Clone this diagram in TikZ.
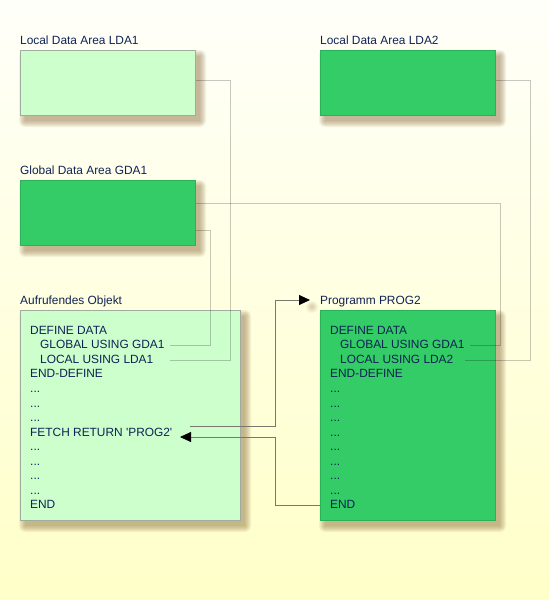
\documentclass[tikz,border=0pt]{standalone}
\usepackage{fontspec}
\newfontfamily\diagfont{Liberation Sans}
\usetikzlibrary{arrows.meta,calc}
\definecolor{bgtop}{RGB}{255,255,250}
\definecolor{bgbot}{RGB}{255,255,200}
\definecolor{lightgreen}{RGB}{204,255,204}
\definecolor{lightedge}{RGB}{160,172,160}
\definecolor{darkgreen}{RGB}{51,204,102}
\definecolor{darkedge}{RGB}{42,178,88}
\definecolor{navy}{RGB}{15,35,85}
\definecolor{shadowcol}{RGB}{140,105,60}
\definecolor{flowgray}{RGB}{120,120,110}
\newcommand{\boxshade}[4]{%
  \foreach \r in {0,1,...,6}{%
    \fill[shadowcol, opacity=0.085, rounded corners=\r pt] (#1+5-\r,#2+6-\r) rectangle (#3+5+\r,#4+6+\r);
  }}
\begin{document}
\begin{tikzpicture}[x=1pt,y=-1pt,
  font=\diagfont\fontsize{11.9}{14}\selectfont,
  lightbox/.style={draw=lightedge, fill=lightgreen, line width=0.9pt, anchor=north west, inner sep=0pt},
  darkbox/.style={draw=darkedge, fill=darkgreen, line width=0.9pt, anchor=north west, inner sep=0pt},
  lbl/.style={anchor=base west, inner sep=0pt, text=navy},
  code/.style={anchor=base west, inner sep=0pt, text=navy},
  dataline/.style={draw=black, draw opacity=0.22, line width=0.8pt},
  flowline/.style={draw=flowgray, line width=0.8pt, -{Triangle[length=11pt,width=10pt,color=black]}}]
\useasboundingbox (0,0) rectangle (549,600);
\shade[top color=bgtop, bottom color=bgbot] (0,0) rectangle (549,600);
% shadows
\boxshade{20}{50}{195}{115}
\boxshade{320}{50}{495}{115}
\boxshade{20}{180}{195}{245}
\boxshade{20}{310}{240}{520}
\boxshade{320}{310}{495}{520}
\foreach \r in {1,...,6} \fill[shadowcol, opacity=0.06] (312,307) circle[radius=\r];
\foreach \r in {1,...,6} \fill[shadowcol, opacity=0.06] (193,444) circle[radius=\r];
% boxes
\node[lightbox, minimum width=175, minimum height=65] (lda1) at (20,50) {};
\node[darkbox, minimum width=175, minimum height=65] (lda2) at (320,50) {};
\node[darkbox, minimum width=175, minimum height=65] (gda1) at (20,180) {};
\node[lightbox, minimum width=220, minimum height=210] (caller) at (20,310) {};
\node[darkbox, minimum width=175, minimum height=210] (prog2) at (320,310) {};
% labels
\node[lbl] (tlda1) at (20,44) {Local Data Area LDA1};
\node[lbl] (tlda2) at (320,44) {Local Data Area LDA2};
\node[lbl] (tgda1) at (20,174) {Global Data Area GDA1};
\node[lbl] (tcaller) at (20,304) {Aufrufendes Objekt};
\node[lbl] (tprog2) at (320,304) {Programm PROG2};
% caller code
\node[code] (c0) at (30,334.3) {DEFINE DATA};
\node[code] (c1) at (40,348.85) {GLOBAL USING GDA1};
\node[code] (c2) at (40,363.4) {LOCAL USING LDA1};
\node[code] (c3) at (30,377.95) {END-DEFINE};
\foreach \i in {4,5,6,8,9,10,11} \node[code] (c\i) at (30,334.3+14.55*\i) {...};
\node[code] (c7) at (30,436.15) {FETCH RETURN 'PROG2'};
\node[code] (c12) at (30,508.9) {END};
% prog2 code
\node[code] (r0) at (330,334.3) {DEFINE DATA};
\node[code] (r1) at (340,348.85) {GLOBAL USING GDA1};
\node[code] (r2) at (340,363.4) {LOCAL USING LDA2};
\node[code] (r3) at (330,377.95) {END-DEFINE};
\foreach \i in {4,...,11} \node[code] (r\i) at (330,334.3+14.55*\i) {...};
\node[code] (r12) at (330,508.9) {END};
% connector ends
\coordinate (lg) at (170,345);
\coordinate (ll) at (170,360);
\coordinate (rg) at (470,345);
\coordinate (rl) at (465,360);
\coordinate (fout) at (190,426);
\coordinate (fin) at (180,437);
% data area connectors
\draw[dataline] ([yshift=2.5pt]lda1.east) -| (230,360) -- (ll);
\draw[dataline] ([yshift=-17pt]gda1.east) -| (210,345) -- (lg);
\draw[dataline] ([yshift=9.5pt]gda1.east) -| (500,345) -- (rg);
\draw[dataline] ([yshift=2.5pt]lda2.east) -| (530,360) -- (rl);
% flow arrows
\draw[flowline] (fout) -| (275,300) -- ([xshift=-10pt]tprog2.west |- 0,300);
\draw[flowline] (prog2.west |- 0,505) -| (275,437) -- (fin);
\end{tikzpicture}
\end{document}
